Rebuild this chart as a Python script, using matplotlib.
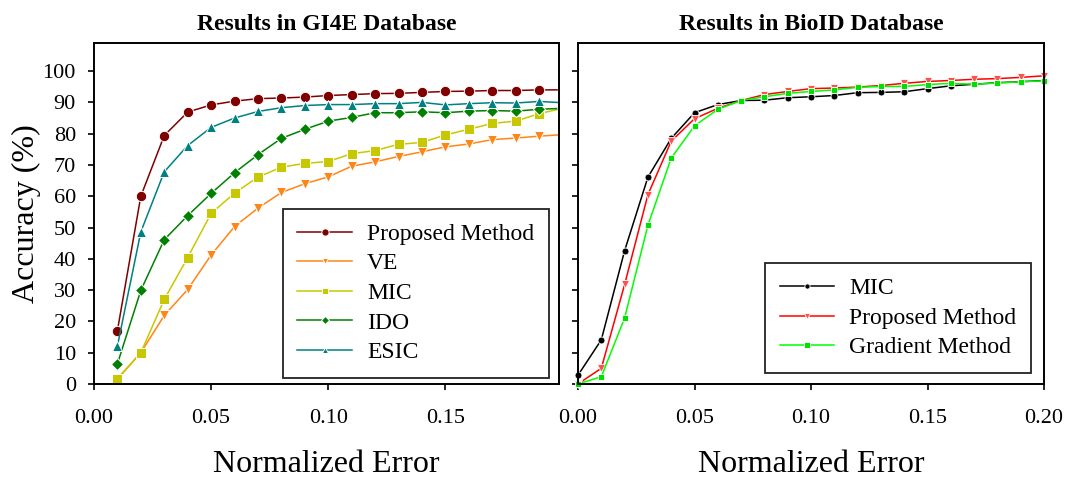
import numpy as np
import matplotlib.pyplot as plt

plt.rcParams['font.family'] = ['Liberation Serif', 'DejaVu Serif']

# GI4E data (normalized error 0.01 .. 0.20)
err_gi4e = [0.01, 0.02, 0.03, 0.04, 0.05, 0.06, 0.07, 0.08, 0.09, 0.10,
            0.11, 0.12, 0.13, 0.14, 0.15, 0.16, 0.17, 0.18, 0.19, 0.20]
gi4e_proposed = [17.0, 60.0, 79.4, 86.9, 89.2, 90.4, 91.2, 91.4, 91.7, 92.2,
                 92.5, 92.8, 92.9, 93.2, 93.5, 93.6, 93.8, 93.8, 94.0, 94.0]
gi4e_ve = [1.5, 10.0, 21.9, 30.2, 41.2, 50.3, 56.2, 61.2, 64.0, 66.2,
           69.6, 71.0, 72.7, 74.2, 75.8, 76.7, 78.1, 78.6, 79.2, 79.7]
gi4e_mic = [1.7, 10.0, 27.0, 40.4, 54.5, 61.0, 66.1, 69.3, 70.5, 71.1,
            73.6, 74.6, 76.6, 77.2, 79.6, 81.4, 83.3, 84.0, 86.4, 88.1]
gi4e_ido = [6.4, 29.9, 46.1, 53.8, 60.9, 67.5, 73.3, 78.5, 81.4, 84.0,
            85.2, 86.7, 86.7, 87.0, 86.7, 87.2, 87.4, 87.2, 87.8, 88.1]
gi4e_esic = [12.1, 48.6, 67.8, 76.2, 82.0, 85.0, 87.1, 88.3, 89.0, 89.3,
             89.3, 89.6, 89.6, 90.0, 89.2, 89.6, 89.9, 89.8, 90.3, 89.9]

# BioID data (normalized error 0.00 .. 0.20)
err_bioid = [0.00, 0.01, 0.02, 0.03, 0.04, 0.05, 0.06, 0.07, 0.08, 0.09, 0.10,
             0.11, 0.12, 0.13, 0.14, 0.15, 0.16, 0.17, 0.18, 0.19, 0.20]
bioid_mic = [2.8, 14.1, 42.6, 66.1, 78.5, 86.7, 89.3, 90.6, 90.7, 91.5, 91.8,
             92.2, 93.1, 93.2, 93.4, 94.4, 95.3, 95.8, 96.3, 96.6, 97.0]
bioid_proposed = [0.0, 5.0, 31.8, 60.5, 77.6, 84.8, 88.1, 90.6, 92.5, 93.5, 94.4,
                  94.6, 94.9, 95.4, 96.1, 96.7, 97.0, 97.4, 97.6, 98.0, 98.5]
bioid_gradient = [0.0, 2.3, 21.1, 50.7, 72.2, 82.5, 87.8, 90.6, 91.8, 92.9, 93.5,
                  94.0, 94.8, 95.1, 95.1, 95.7, 96.1, 95.8, 96.2, 96.6, 96.9]

fig = plt.figure(figsize=(10.8, 4.86), dpi=100)
ax1 = fig.add_axes([0.087, 0.21, 0.4306, 0.7016])
ax2 = fig.add_axes([0.5352, 0.21, 0.4315, 0.7016])

# left panel
series_left = [
    ('Proposed Method', gi4e_proposed, '#800000', 'o', 7.5),
    ('VE', gi4e_ve, '#ff8517', 'v', 7),
    ('MIC', gi4e_mic, '#c8c800', 's', 6.8),
    ('IDO', gi4e_ido, '#008000', 'D', 6.3),
    ('ESIC', gi4e_esic, '#008080', '^', 7),
]
for name, vals, col, mk, ms in series_left:
    ax1.plot(err_gi4e, vals, '-', color=col, lw=1.1, marker=mk, ms=ms,
             mfc=col, mec='white', mew=0.7, label=name)
ax1.set_xlim(0, 0.1985)
ax1.set_xticks([0.00, 0.05, 0.10, 0.15])
ax1.set_title('Results in GI4E Database', fontsize=17, fontweight='bold', pad=9)
ax1.set_ylabel('Accuracy (%)', fontsize=23, labelpad=1)
leg1 = ax1.legend(loc='lower right', fontsize=17, handlelength=2.3,
                  handletextpad=0.65, labelspacing=0.34, borderpad=0.62,
                  borderaxespad=0, fancybox=False, framealpha=1, markerscale=0.7,
                  bbox_to_anchor=(0.978, 0.018))

# right panel
series_right = [
    ('MIC', bioid_mic, 'black', 'black', 'o', 5),
    ('Proposed Method', bioid_proposed, '#ff0000', '#ff5050', 'v', 6),
    ('Gradient Method', bioid_gradient, '#00ff00', '#00e000', 's', 5),
]
for name, vals, col, mcol, mk, ms in series_right:
    ax2.plot(err_bioid, vals, '-', color=col, lw=1.1, marker=mk, ms=ms,
             mfc=mcol, mec='white', mew=0.6, label=name, clip_on=False)
ax2.set_xlim(0, 0.2)
ax2.set_xticks([0.00, 0.05, 0.10, 0.15, 0.20])
ax2.set_title('Results in BioID Database', fontsize=17, fontweight='bold', pad=9)
ax2.tick_params(axis='y', labelleft=False)
leg2 = ax2.legend(loc='lower right', fontsize=17, handlelength=2.3,
                  handletextpad=0.65, labelspacing=0.34, borderpad=0.62,
                  borderaxespad=0, fancybox=False, framealpha=1, markerscale=0.75,
                  bbox_to_anchor=(0.972, 0.032))

for ax in (ax1, ax2):
    ax.set_ylim(0, 109)
    ax.set_yticks(np.arange(0, 101, 10))
    ax.set_xticklabels(['%.2f' % t for t in ax.get_xticks()])
    ax.set_xlabel('Normalized Error', fontsize=23, labelpad=16)
    ax.tick_params(direction='out', length=4, width=1.2, labelsize=16)
    ax.tick_params(axis='x', pad=14)
    ax.tick_params(axis='y', pad=9)
    for sp in ax.spines.values():
        sp.set_linewidth(1.4)

for leg in (leg1, leg2):
    leg.get_frame().set_edgecolor('#222222')
    leg.get_frame().set_linewidth(1.3)

fig.savefig('out.png', dpi=100)
